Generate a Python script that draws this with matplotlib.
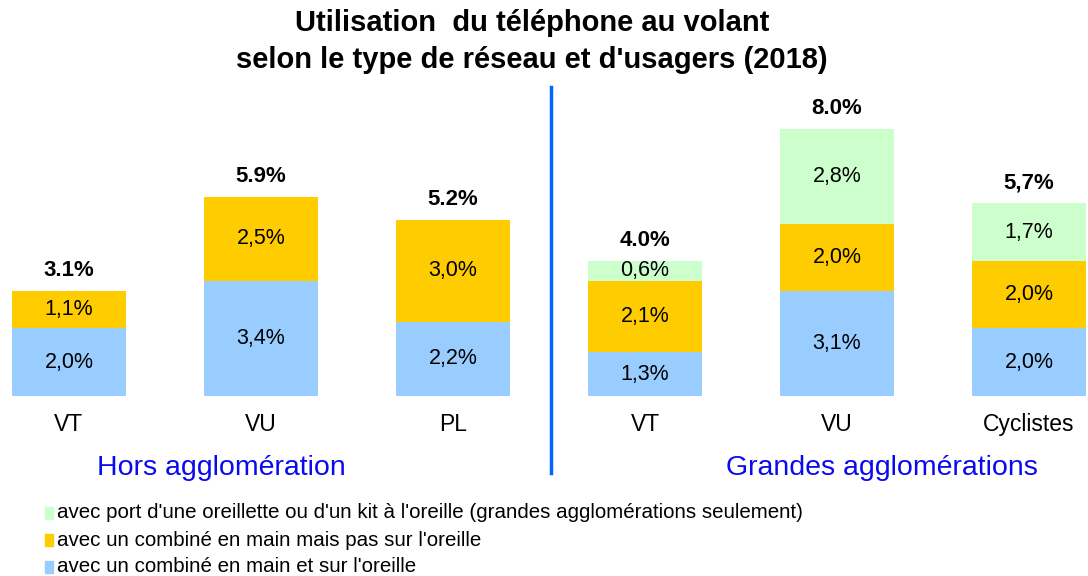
"""
Utilisation du téléphone au volant selon le type de réseau et d'usagers (2018).
"""

import matplotlib.pyplot as plt

plt.rcParams["font.family"] = ["Liberation Sans", "DejaVu Sans"]

categories = ["VT", "VU", "PL", "VT", "VU", "Cyclistes"]
on_ear = [2.0, 3.4, 2.2, 1.3, 3.1, 2.0]
hand_not_ear = [1.1, 2.5, 3.0, 2.1, 2.0, 2.0]
headset = [0.0, 0.0, 0.0, 0.6, 2.8, 1.7]
totals = ["3.1%", "5.9%", "5.2%", "4.0%", "8.0%", "5,7%"]
groups = ["Hors agglomération", "Grandes agglomérations"]
title_lines = ["Utilisation  du téléphone au volant",
               "selon le type de réseau et d'usagers (2018)"]
legend_labels = [
    "avec port d'une oreillette ou d'un kit à l'oreille (grandes agglomérations seulement)",
    "avec un combiné en main mais pas sur l'oreille",
    "avec un combiné en main et sur l'oreille",
]

c_blue = "#99ccff"
c_gold = "#ffcc00"
c_green = "#ccffcc"


def fmt(v):
    return f"{v:.1f}%".replace(".", ",")


fig = plt.figure(figsize=(10.88, 5.76), dpi=100)
ax = fig.add_axes([0, 0.3125, 1, 0.514])

x = list(range(len(categories)))
width = 0.59
ax.bar(x, on_ear, width, color=c_blue)
ax.bar(x, hand_not_ear, width, bottom=on_ear, color=c_gold)
base2 = [a + b for a, b in zip(on_ear, hand_not_ear)]
ax.bar(x, headset, width, bottom=base2, color=c_green)

for i in x:
    ax.text(i, on_ear[i] / 2, fmt(on_ear[i]), ha="center", va="center", fontsize=15.5)
    ax.text(i, on_ear[i] + hand_not_ear[i] / 2, fmt(hand_not_ear[i]),
            ha="center", va="center", fontsize=15.5)
    if headset[i] > 0:
        ax.text(i, base2[i] + headset[i] / 2, fmt(headset[i]),
                ha="center", va="center", fontsize=15.5)
    top = base2[i] + headset[i]
    ax.text(i, top + 0.6, totals[i], ha="center", va="center",
            fontsize=16, fontweight="bold")
    ax.text(i, -0.85, categories[i], ha="center", va="center", fontsize=16.5)

ax.set_xlim(-0.359, 5.307)
ax.set_ylim(0, 8.76)
ax.axis("off")

# separator between the two network types
fig.add_artist(plt.Line2D([551 / 1088, 551 / 1088], [1 - 87 / 576, 1 - 473 / 576],
                          color="#0066ff", lw=2.5))

fig.text(221 / 1088, 1 - 468 / 576, groups[0], ha="center", va="center",
         fontsize=20.5, color="#0a0aee")
fig.text(882 / 1088, 1 - 468 / 576, groups[1], ha="center", va="center",
         fontsize=20.5, color="#0a0aee")

fig.text(532 / 1088, 1 - 23 / 576, title_lines[0], ha="center", va="center",
         fontsize=21, fontweight="bold")
fig.text(532 / 1088, 1 - 60 / 576, title_lines[1], ha="center", va="center",
         fontsize=21, fontweight="bold")

# legend drawn by hand to keep the square markers tight to the text
for k, (label, col) in enumerate(zip(legend_labels, [c_green, c_gold, c_blue])):
    y = 1 - (513 + 27 * k) / 576
    fig.patches.append(plt.Rectangle((45 / 1088, y - 6 / 576), 8 / 1088, 12 / 576,
                                     transform=fig.transFigure, color=col))
    fig.text(57 / 1088, y, label, ha="left", va="center", fontsize=14.8)

fig.savefig("out.png", dpi=100)
